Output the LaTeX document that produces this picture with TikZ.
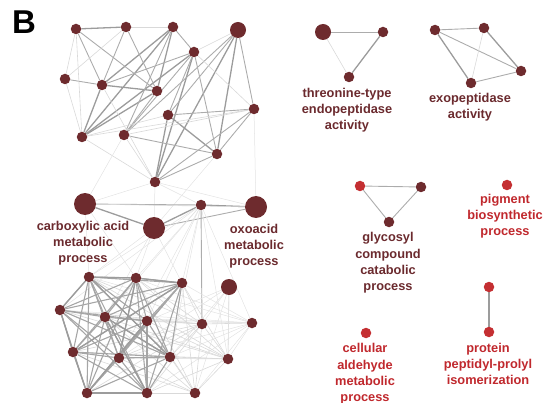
\documentclass[tikz,border=0pt]{standalone}
\usepackage{fontspec}
\setmainfont{Liberation Sans}
\usetikzlibrary{backgrounds}
\definecolor{nodedark}{HTML}{6E2B2E}
\definecolor{nodered}{HTML}{C42F32}
\definecolor{labdark}{HTML}{6B2A2E}
\definecolor{labred}{HTML}{C0282D}
\tikzset{
  dn/.style={circle,fill=nodedark,inner sep=0pt,minimum size=10.5pt},
  mn/.style={circle,fill=nodedark,inner sep=0pt,minimum size=16pt},
  hn/.style={circle,fill=nodedark,inner sep=0pt,minimum size=22pt},
  rn/.style={circle,fill=nodered,inner sep=0pt,minimum size=10.5pt},
  lab/.style={align=center,text=labdark,font=\fontsize{12.8}{16.3}\selectfont\bfseries},
  labr/.style={lab,text=labred},
  ea/.style={draw=gray!30,line width=0.6pt},
  eb/.style={draw=gray!65,line width=0.9pt},
  ec/.style={draw=gray!78,line width=1.3pt},
  el/.style={draw=gray!22,line width=0.5pt},
  ebb/.style={draw=gray!70,line width=1.1pt},
}
\begin{document}
\begin{tikzpicture}[x=1pt,y=-1pt]
\useasboundingbox (0,0) rectangle (545,403);
\node[font=\fontsize{33}{33}\selectfont\bfseries] (B) at (24,22) {B};
% top cluster
\node[dn] (t1) at (76,29) {};
\node[dn] (t2) at (126,27) {};
\node[dn] (t3) at (173,27) {};
\node[mn] (t4) at (238,30) {};
\node[dn] (t5) at (194,52) {};
\node[dn] (t6) at (65,79) {};
\node[dn] (t7) at (102,85) {};
\node[dn] (t8) at (157,91) {};
\node[dn] (t9) at (168,115) {};
\node[dn] (t10) at (254,109) {};
\node[dn] (t11) at (82,137) {};
\node[dn] (t12) at (124,135) {};
\node[dn] (t13) at (217,154) {};
\node[dn] (t14) at (155,182) {};
% middle
\node[hn] (ca) at (85,204) {};
\node[dn] (m2) at (201,205) {};
\node[hn] (m3) at (154,228) {};
\node[hn] (ox) at (256,207) {};
% bottom cluster
\node[dn] (b1) at (89,277) {};
\node[dn] (b2) at (136,278) {};
\node[dn] (b3) at (182,283) {};
\node[mn] (b4) at (229,287) {};
\node[dn] (b5) at (60,310) {};
\node[dn] (b6) at (105,317) {};
\node[dn] (b7) at (147,321) {};
\node[dn] (b8) at (202,324) {};
\node[dn] (b9) at (252,323) {};
\node[dn] (b10) at (73,352) {};
\node[dn] (b11) at (119,358) {};
\node[dn] (b12) at (170,357) {};
\node[dn] (b13) at (228,359) {};
\node[dn] (b14) at (87,393) {};
\node[dn] (b15) at (147,393) {};
\node[dn] (b16) at (195,393) {};
% right clusters
\node[mn] (h1) at (323,32) {};
\node[dn] (h2) at (383,32) {};
\node[dn] (h3) at (349,77) {};
\node[dn] (x1) at (435,30) {};
\node[dn] (x2) at (484,28) {};
\node[dn] (x3) at (521,71) {};
\node[dn] (x4) at (471,83) {};
\node[rn] (g1) at (360,186) {};
\node[dn] (g2) at (421,187) {};
\node[dn] (g3) at (389,222) {};
\node[rn] (pg) at (507,185) {};
\node[rn] (p1) at (489,287) {};
\node[rn] (p2) at (489,332) {};
\node[rn] (cl) at (366,333) {};
% labels
\node[lab] (lca) at (83,243) {carboxylic acid\\metabolic\\process};
\node[lab] (lox) at (254,246) {oxoacid\\metabolic\\process};
\node[lab] (lth) at (347,110) {threonine-type\\endopeptidase\\activity};
\node[lab] (lex) at (470,107) {exopeptidase\\activity};
\node[lab] (lgl) at (388,263) {glycosyl\\compound\\catabolic\\process};
\node[labr] (lpg) at (505,216) {pigment\\biosynthetic\\process};
\node[labr] (lpr) at (488,364) {protein\\peptidyl-prolyl\\isomerization};
\node[labr] (lcl) at (365,374) {cellular\\aldehyde\\metabolic\\process};
\begin{pgfonlayer}{background}
% top cluster edges
\foreach \a/\b in {t1/t2,t7/t8,t3/t7,t3/t11,t3/t8,t5/t11,t5/t14,t9/t13,t9/t14,t7/t11,t8/t11,t4/t14,t4/t13}
  \draw[ec] (\a)--(\b);
\foreach \a/\b in {t3/t5,t1/t7,t1/t8,t2/t7,t2/t8,t3/t12,t5/t7,t5/t12,t5/t13,t5/t9,t6/t7,t8/t12,t9/t10,t12/t13,t10/t13,t10/t14,t13/t14,t4/t9,t4/t10,t4/t12}
  \draw[eb] (\a)--(\b);
\foreach \a/\b in {t2/t3,t1/t6,t1/t11,t2/t6,t5/t10,t4/t5,t6/t11,t7/t14,t11/t9,t11/t10,t12/t10,t12/t14,t11/t14}
  \draw[ea] (\a)--(\b);
% top to middle
\foreach \a/\b in {t14/ca,t14/m2,t14/ox,t14/m3,t10/ox,t13/m3,t12/ca}
  \draw[el] (\a)--(\b);
% middle
\draw[eb] (ca)--(m2);
\draw[ec] (ca)--(m3);
\draw[ec] (m3)--(m2);
\draw[ec] (m2)--(ox);
\draw[eb] (m3)--(ox);
\draw[ea] (ca)--(ox);
\draw[eb] (m2)--(b8);
% middle to bottom
\foreach \b in {b1,b2,b3,b5,b6,b7,b11,b12,b9,b13}
  \draw[el] (m2)--(\b);
\foreach \a/\b in {ca/b1,m3/b1,m3/b2,m3/b6,m3/b3,ca/b2}
  \draw[el] (\a)--(\b);
% bottom right part
\foreach \j in {1,2,3,5,6,7,10,11,12,14,15,9,13,16}
  \draw[ea] (b8)--(b\j);
\foreach \j in {1,2,3,5,6,7,11,12,13,15,16}
  \draw[el] (b9)--(b\j);
\foreach \j in {1,2,3,5,6,7,10,11,12,15,16,4}
  \draw[ea] (b13)--(b\j);
\foreach \j in {14,15,12,11,10,6,7,3,2}
  \draw[ea] (b16)--(b\j);
\foreach \j in {12,13,16,8,7,11}
  \draw[el] (b4)--(b\j);
% bottom core
\foreach \i/\js in {1/{2,3,5,6,7,10,11,12,14,15},2/{3,5,6,7,10,11,12,14,15},3/{5,6,7,10,11,12,14,15},5/{6,7,10,11,12,14,15},6/{7,10,11,12,14,15},7/{10,11,12,14,15},10/{11,12,14,15},11/{12,14,15},12/{14,15},14/{15}}
  \foreach \j in \js
    \draw[ebb] (b\i)--(b\j);
\foreach \a/\b in {b1/b2,b1/b5,b5/b10,b10/b14,b14/b15,b6/b12,b2/b11,b1/b12,b3/b10,b7/b14,b6/b15,b2/b3}
  \draw[ec] (\a)--(\b);
% right clusters
\draw[eb] (h1)--(h2);
\draw[ea] (h1)--(h3);
\draw[ec] (h2)--(h3);
\draw[eb] (x1)--(x2);
\draw[ec] (x1)--(x4);
\draw[eb] (x1)--(x3);
\draw[ea] (x2)--(x4);
\draw[ec] (x2)--(x3);
\draw[eb] (x4)--(x3);
\draw[eb] (g1)--(g2);
\draw[eb] (g1)--(g3);
\draw[eb] (g2)--(g3);
\draw[ec] (p1)--(p2);
\end{pgfonlayer}
\end{tikzpicture}
\end{document}
